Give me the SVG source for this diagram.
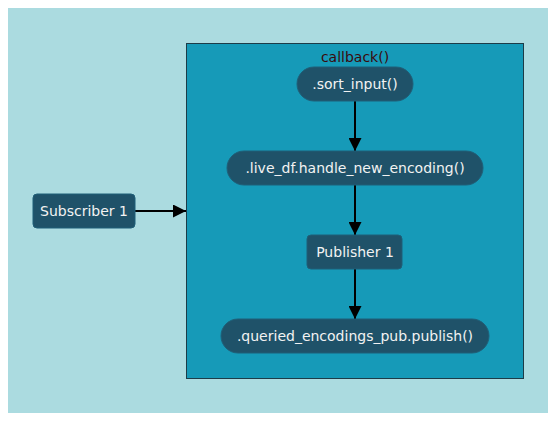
<svg xmlns="http://www.w3.org/2000/svg" width="556" height="422" viewBox="0 0 556 422">
<style>
.node rect{fill:#1f5269;stroke:#1f5f78;stroke-width:1}
.node text{fill:#f2f2f2;font-family:"DejaVu Sans",sans-serif;font-size:14px;text-anchor:middle;dominant-baseline:central}
.edge{stroke:#000;stroke-width:2;fill:none;marker-end:url(#arr)}
</style>
<defs>
<marker id="arr" viewBox="0 0 10 10" refX="10" refY="5" markerWidth="6.5" markerHeight="6.5" markerUnits="strokeWidth" orient="auto"><path d="M0,0 L10,5 L0,10 z" fill="#000"/></marker>
</defs>
<rect x="0" y="0" width="556" height="422" fill="#fff"/>
<rect x="8" y="8" width="540" height="405" fill="#abdbe0"/>
<g id="callback">
<rect x="186.5" y="43.5" width="337" height="335" fill="#169ab8" stroke="#1c3c48" stroke-width="1"/>
<text x="355" y="57" font-family="DejaVu Sans,sans-serif" font-size="14" fill="#3a0a0c" text-anchor="middle" dominant-baseline="central">callback()</text>
</g>
<g id="edges">
<path class="edge" d="M355,101 L355,151"/>
<path class="edge" d="M355,185 L355,235"/>
<path class="edge" d="M355,269 L355,319"/>
<path class="edge" d="M135,211 L186,211"/>
</g>
<g id="sort_input" class="node"><rect x="297" y="67" width="116" height="34" rx="17"/><text x="355" y="84">.sort_input()</text></g>
<g id="handle_new_encoding" class="node"><rect x="227" y="151" width="256" height="34" rx="17"/><text x="355" y="168">.live_df.handle_new_encoding()</text></g>
<g id="publisher1" class="node"><rect x="307" y="235" width="95" height="34" rx="4"/><text x="355" y="252">Publisher 1</text></g>
<g id="publish" class="node"><rect x="221" y="319" width="268" height="34" rx="17"/><text x="355" y="336">.queried_encodings_pub.publish()</text></g>
<g id="subscriber1" class="node"><rect x="33" y="194" width="102" height="34" rx="4"/><text x="84" y="211">Subscriber 1</text></g>
</svg>
